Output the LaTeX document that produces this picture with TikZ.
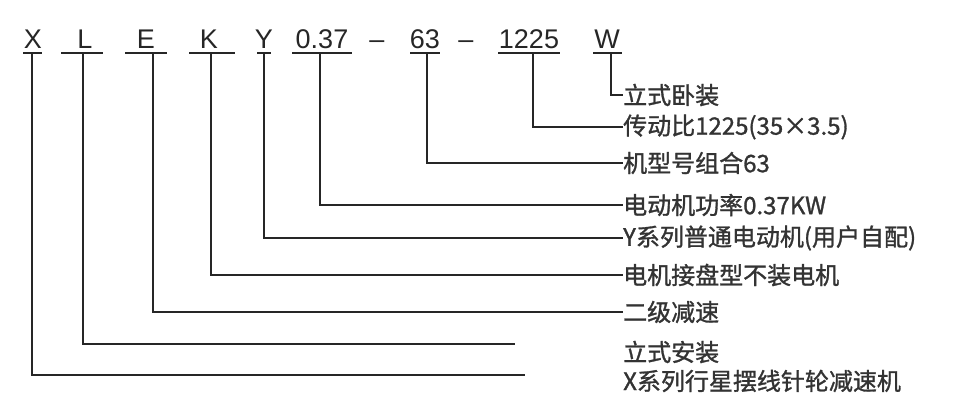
\documentclass[tikz,border=0pt]{standalone}
\usepackage{fontspec}
\setmainfont{Liberation Sans}
\newfontfamily\cjk[FakeBold=1.2]{Noto Sans CJK SC}
\definecolor{ink}{HTML}{262626}
\definecolor{txt}{HTML}{333333}
\begin{document}
\begin{tikzpicture}[x=1pt,y=-1pt,
  code/.style={font=\fontsize{27}{30}\selectfont, anchor=base, inner sep=0pt, text=ink},
  lbl/.style={font=\cjk\fontsize{24}{27}\selectfont, anchor=west, inner sep=0pt, text=txt},
  ln/.style={line width=2.4pt, draw=ink},
  ul/.style={line width=2.4pt, draw=ink},
]
\useasboundingbox[fill=white] (0,0) rectangle (959,395);

% code letters
\node[code] (cX) at (33,49) {X};
\node[code] (cL) at (85,49) {L};
\node[code] (cE) at (146,49) {E};
\node[code] (cK) at (209,49) {K};
\node[code] (cY) at (264,49) {Y};
\node[code] (c037) at (322,49) {0.37};
\node[code] (d1) at (377,49) {–};
\node[code] (c63) at (425,49) {63};
\node[code] (d2) at (466,49) {–};
\node[code] (c1225) at (529,49) {1225};
\node[code] (cW) at (607,49) {W};

% underlines
\draw[ul] (23,53) -- (42,53);
\draw[ul] (61,53) -- (103,53);
\draw[ul] (125,53) -- (167,53);
\draw[ul] (189,53) -- (235,53);
\draw[ul] (257,53) -- (271,53);
\draw[ul] (292,53) -- (352,53);
\draw[ul] (410,53) -- (440,53);
\draw[ul] (498,53) -- (560,53);
\draw[ul] (593,53) -- (622,53);

% top points of the verticals
\coordinate (tX) at (32,53);
\coordinate (tL) at (83,53);
\coordinate (tE) at (153,53);
\coordinate (tK) at (211,53);
\coordinate (tY) at (264,53);
\coordinate (t037) at (320,53);
\coordinate (t63) at (427,53);
\coordinate (t1225) at (533,53);
\coordinate (tW) at (611,53);

% labels
\node[lbl] (lW) at (623,95) {立式卧装};
\node[lbl] (l1225) at (623,127) {传动比1225(35×3.5)};
\node[lbl] (l63) at (623,163) {机型号组合63};
\node[lbl] (l037) at (623,205) {电动机功率0.37KW};
\node[lbl] (lY) at (623,238) {Y系列普通电动机(用户自配)};
\node[lbl] (lK) at (623,275) {电机接盘型不装电机};
\node[lbl] (lE) at (623,312) {二级减速};
\node[lbl] (lL) at (623,352) {立式安装};
\node[lbl] (lX) at (623,381) {X系列行星摆线针轮减速机};

% free ends of the two short lines
\coordinate (eL) at (515,344);
\coordinate (eX) at (525,375);

% connectors
\draw[ln] (tW) |- (lW.west);
\draw[ln] (t1225) |- (l1225.west);
\draw[ln] (t63) |- (l63.west);
\draw[ln] (t037) |- (l037.west);
\draw[ln] (tY) |- (lY.west);
\draw[ln] (tK) |- (lK.west);
\draw[ln] (tE) |- (lE.west);
\draw[ln] (tL) |- (eL);
\draw[ln] (tX) |- (eX);
\end{tikzpicture}
\end{document}
